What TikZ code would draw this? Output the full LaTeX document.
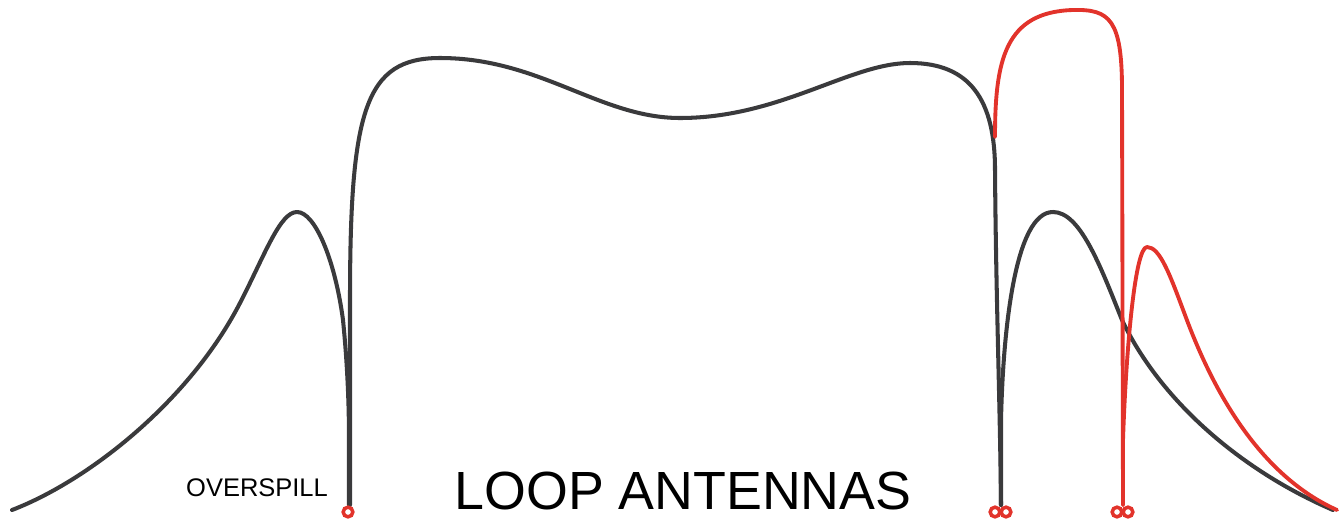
\documentclass[tikz,border=0pt]{standalone}
\usepackage{fontspec}
\setmainfont{Liberation Sans}
\definecolor{curvegray}{HTML}{3A3A3C}
\definecolor{loopred}{HTML}{E2332B}
\tikzset{
  blackcurve/.style={draw=curvegray, line width=2.3pt, line cap=round, line join=round},
  redcurve/.style={draw=loopred, line width=2.2pt, line cap=round, line join=round},
  feedring/.style={draw=loopred, line width=2pt, circle, inner sep=0pt, minimum size=5.5pt},
  label/.style={inner sep=0pt, text=black}
}
\begin{document}
\begin{tikzpicture}[x=0.02cm, y=-0.02cm]
\useasboundingbox (0,0) rectangle (1341,521);
% left overspill peak
\path[blackcurve] (12,510) .. controls (90,480) and (190,400) .. (240,303)
  .. controls (265,254.5) and (280,212) .. (297,212)
  .. controls (315,212) and (335,260) .. (343,320)
  .. controls (347,360) and (349,400) .. (349,440) -- (349,505);
% main loop antenna
\path[blackcurve] (350,505) -- (350,300)
  .. controls (350,110) and (365,58) .. (440,58)
  .. controls (540,58) and (600,118) .. (680,118)
  .. controls (780,118) and (850,63) .. (910,63)
  .. controls (970,63) and (995,100) .. (995,170)
  .. controls (996,300) and (1000,400) .. (1001,505);
% right black peak
\path[blackcurve] (1001,505) -- (1001,420)
  .. controls (1003,330) and (1015,212) .. (1053,212)
  .. controls (1080,212) and (1100,265) .. (1122,320)
  .. controls (1160,400) and (1240,470) .. (1333,510);
% red loop
\path[redcurve] (995,137) .. controls (995,60) and (1005,12) .. (1073,10)
  .. controls (1110,9) and (1122,20) .. (1122,90) -- (1123,505);
% red peak
\path[redcurve] (1123,505) -- (1123,440)
  .. controls (1126,350) and (1135,247) .. (1147,247)
  .. controls (1160,247) and (1170,275) .. (1185,315)
  .. controls (1220,410) and (1270,480) .. (1337,510);
% feed rings
\node[feedring] (r1) at (348,512) {};
\node[feedring] (r2a) at (995,512) {};
\node[feedring] (r2b) at (1006,512) {};
\node[feedring] (r3a) at (1117,512) {};
\node[feedring] (r3b) at (1128,512) {};
% labels
\node[label, font=\fontsize{14.5}{16}\selectfont] (overspill) at (257,488) {OVERSPILL};
\node[label, font=\fontsize{30.6}{34}\selectfont] (loop) at (683,491) {LOOP ANTENNAS};
\end{tikzpicture}
\end{document}
